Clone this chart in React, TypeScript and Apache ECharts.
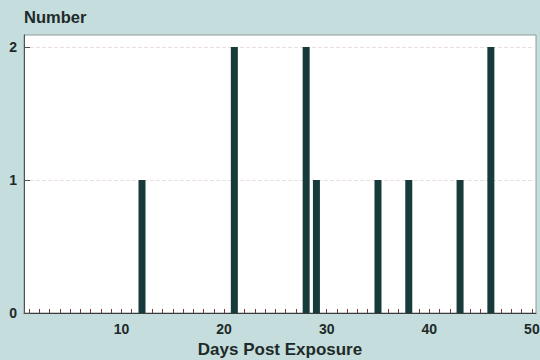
import React, { useEffect, useRef } from "react";
import * as echarts from "echarts";

const days = [12, 21, 28, 29, 35, 38, 43, 46];
const counts = [1, 2, 2, 1, 1, 1, 1, 2];
const xLabels = [10, 20, 30, 40, 50];
const yLabels = [0, 1, 2];
const dayTicks = [1, 2, 3, 4, 5, 6, 7, 8, 9, 10, 11, 12, 13, 14, 15, 16, 17, 18, 19, 20, 21, 22, 23, 24, 25, 26, 27, 28, 29, 30, 31, 32, 33, 34, 35, 36, 37, 38, 39, 40, 41, 42, 43, 44, 45, 46, 47, 48, 49, 50];

export default function App() {
  const ref = useRef<HTMLDivElement>(null);
  useEffect(() => {
    document.body.style.margin = "0";
    const chart = echarts.init(ref.current!, null, { renderer: "svg" });
    const font = "Liberation Sans, Arial, sans-serif";
    chart.setOption({
      animation: false,
      backgroundColor: "#c5dddc",
      grid: { left: 24, right: 4, top: 35, bottom: 47, outerBoundsMode: "none", containLabel: false, show: true, backgroundColor: "#ffffff", borderColor: "#8c9c9c", borderWidth: 1 },
      xAxis: {
        type: "value",
        min: 0.5,
        max: 50.4,
        name: "Days Post Exposure",
        nameLocation: "middle",
        nameGap: 26,
        nameTextStyle: { fontFamily: font, fontWeight: "bold", fontSize: 17, color: "#1e2a2a" },
        axisLine: { show: true, lineStyle: { color: "#3a3a3a", width: 1 } },
        axisTick: { show: true, inside: true, length: 4, customValues: dayTicks, lineStyle: { color: "#7a3a30", width: 1 } },
        axisLabel: { customValues: xLabels, fontFamily: font, fontWeight: "bold", fontSize: 14, color: "#1e2a2a", margin: 9 },
        splitLine: { show: false },
      },
      yAxis: {
        type: "value",
        min: 0,
        max: 2.09,
        name: "Number",
        nameLocation: "end",
        nameGap: 10,
        nameTextStyle: { fontFamily: font, fontWeight: "bold", fontSize: 16.5, color: "#1e2a2a", align: "left" },
        axisLine: { show: true, lineStyle: { color: "#4a5454" } },
        axisTick: { show: true, inside: true, length: 6, customValues: yLabels, lineStyle: { color: "#4a5454" } },
        axisLabel: { customValues: yLabels, fontFamily: font, fontWeight: "bold", fontSize: 14, color: "#1e2a2a", margin: 7 },
        splitLine: { show: true, lineStyle: { color: "#eadede", type: "dashed" } },
      },
      series: [
        {
          type: "bar",
          data: days.map((d, i) => [d, counts[i]]),
          barWidth: 7,
          itemStyle: { color: "#173b3a" },
        },
      ],
    });
    return () => chart.dispose();
  }, []);
  return <div ref={ref} style={{ width: 540, height: 360 }} />;
}
